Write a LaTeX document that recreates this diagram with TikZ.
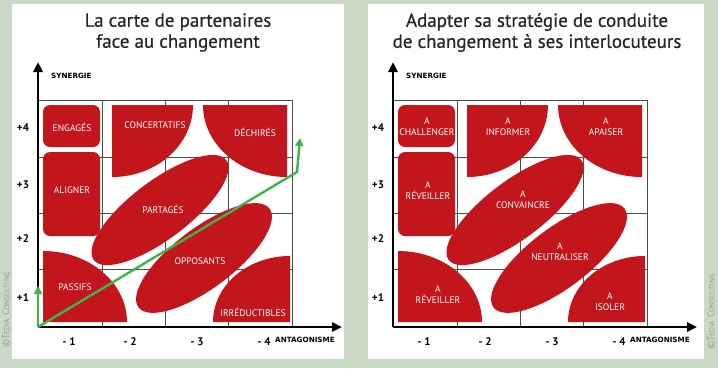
\documentclass[tikz,border=0pt]{standalone}
\usepackage{fontspec}
\setmainfont{PT Sans}
\newfontfamily\ttlfont{PT Sans}[FakeBold=0.6]
\newfontfamily\axfont{DejaVu Sans}
\usetikzlibrary{arrows.meta,shapes.geometric}
\definecolor{bgc}{HTML}{CAD8C6}
\definecolor{redf}{HTML}{C3151C}
\definecolor{grn}{HTML}{3DB54A}
\definecolor{copyc}{HTML}{8FA38C}
\tikzset{
  redshape/.style={fill=redf, draw=none},
  lbl/.style={text=white, font=\fontsize{9.5}{11}\selectfont, align=center, inner sep=0pt},
  gridl/.style={draw=black!70, line width=0.8pt},
  axisl/.style={line width=2.6pt, -{Triangle[length=10pt,width=9pt]}},
  numl/.style={font=\bfseries\fontsize{11}{12}\selectfont, inner sep=0pt},
  axlbl/.style={font=\axfont\bfseries\fontsize{7.2}{8}\selectfont, inner sep=0pt, anchor=west},
  ttl/.style={font=\ttlfont\fontsize{19}{21}\selectfont, text=black!85, align=center, inner sep=0pt},
  copyl/.style={rotate=90, text=copyc, inner sep=0pt, font=\fontsize{10}{11}\selectfont},
  greenl/.style={draw=grn, line width=2.4pt, -{Triangle[length=8pt,width=8pt]}},
  rbox/.style={redshape, rectangle, rounded corners=7pt, inner sep=0pt},
  rell/.style={redshape, ellipse, inner sep=0pt, rotate=37}
}
\newcommand\chartbase[1]{%
  \foreach \gx in {102,165,228,292} {\draw[gridl] (\gx,100) -- (\gx,327);}
  \foreach \gy in {100,157,213,269} {\draw[gridl] (38,\gy) -- (292,\gy);}
  \coordinate (#1o) at (38,327);
  \coordinate (#1ytop) at (38,62);
  \coordinate (#1xend) at (342,327);
  \node[numl] (#1p4) at (23,128) {+4};
  \node[numl] (#1p3) at (23,185) {+3};
  \node[numl] (#1p2) at (23,239) {+2};
  \node[numl] (#1p1) at (23,298) {+1};
  \node[numl] (#1m1) at (69,342) {- 1};
  \node[numl] (#1m2) at (130,342) {- 2};
  \node[numl] (#1m3) at (197,342) {- 3};
  \node[numl] (#1m4) at (264,342) {- 4};
  \node[axlbl] (#1syn) at (51,76) {SYNERGIE};
  \node[axlbl] (#1ant) at (275,340) {ANTAGONISME};
}
\newcommand\chartshapes[1]{%
  \node[rbox, minimum width=57pt, minimum height=42pt] (#1bA) at (71.5,126) {};
  \node[rbox, minimum width=57pt, minimum height=84pt] (#1bB) at (71.5,194) {};
  \fill[redshape] (112,105) -- (193,105) arc[start angle=0,end angle=90,x radius=81,y radius=72] -- cycle;
  \fill[redshape] (287,105) -- (287,177) arc[start angle=90,end angle=180,x radius=84,y radius=72] -- cycle;
  \fill[redshape] (43,322) -- (43,251) arc[start angle=270,end angle=360,x radius=84,y radius=71] -- cycle;
  \fill[redshape] (290,322) -- (213,322) arc[start angle=180,end angle=270,x radius=77,y radius=66] -- cycle;
  \node[rell, minimum width=166pt, minimum height=58pt] (#1eA) at (160,210) {};
  \node[rell, minimum width=164pt, minimum height=60pt] (#1eB) at (204,258) {};
}
\newcommand\tedia{©T{\fontsize{7.5}{8}\selectfont EDIA} C{\fontsize{7.5}{8}\selectfont ONSULTING}}
\begin{document}
\begin{tikzpicture}[x=1pt,y=-1pt]
\useasboundingbox (0,0) rectangle (718,368);
\fill[bgc] (0,0) rectangle (718,368);
\fill[white] (12,4) rectangle (344,359);
\fill[white] (368,4) rectangle (704,359);
\node[copyl] (cpL) at (6,310) {\tedia};
\node[copyl] (cpR) at (711,312) {\tedia};
% left chart
\node[ttl] (tL) at (178,32.5) {La carte de partenaires\\face au changement};
\chartbase{L}
\chartshapes{L}
\draw[axisl] (Lo) -- (Lytop);
\draw[axisl] (Lo) -- (Lxend);
\node[lbl] (l1) at (72,127) {ENGAGÉS};
\node[lbl] (l2) at (72,190) {ALIGNER};
\node[lbl] (l3) at (155,125) {CONCERTATIFS};
\node[lbl] (l4) at (255,132) {DÉCHIRÉS};
\node[lbl] (l5) at (163,209) {PARTAGÉS};
\node[lbl] (l6) at (200,261) {OPPOSANTS};
\node[lbl] (l7) at (75,287) {PASSIFS};
\node[lbl] (l8) at (253,312) {IRRÉDUCTIBLES};
\coordinate (gk) at (297,172);
\coordinate (gt) at (300,138);
\coordinate (gv) at (38,286);
\draw[greenl] (Lo) -- (gk) -- (gt);
\draw[greenl] (Lo) -- (gv);
% right chart
\node[ttl] (tR) at (537,32.5) {Adapter sa stratégie de conduite\\de changement à ses interlocuteurs};
\begin{scope}[xshift=355pt]
\chartbase{R}
\chartshapes{R}
\draw[axisl] (Ro) -- (Rytop);
\draw[axisl] (Ro) -- (Rxend);
\node[lbl] (r1) at (72,127) {A\\CHALLENGER};
\node[lbl] (r2) at (153,127) {A\\INFORMER};
\node[lbl] (r3) at (251,127) {A\\APAISER};
\node[lbl] (r4) at (73,191) {A\\RÉVEILLER};
\node[lbl] (r5) at (168,200) {A\\CONVAINCRE};
\node[lbl] (r6) at (205,252) {A\\NEUTRALISER};
\node[lbl] (r7) at (83,295) {A\\RÉVEILLER};
\node[lbl] (r8) at (255,302) {A\\ISOLER};
\end{scope}
\end{tikzpicture}
\end{document}
